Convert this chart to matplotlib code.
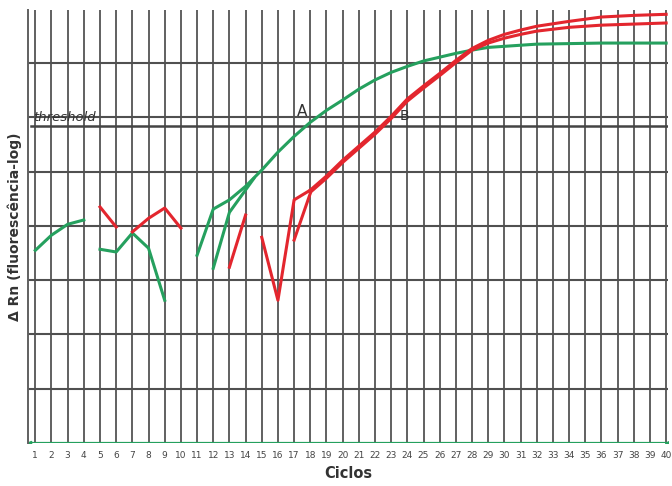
import matplotlib.pyplot as plt

# amplification curves (y in grid units, 0 = bottom axis, 1 unit per log decade)
green1_x = [1, 2, 3, 4]
green1_y = [3.55, 3.83, 4.03, 4.11]
green2_x = [5, 6, 7, 8, 9]
green2_y = [3.57, 3.52, 3.87, 3.59, 2.63]
green_main_x = [11, 12, 13, 14, 15, 16, 17, 18, 19, 20, 21, 22, 23, 24, 25, 26, 27,
                28, 29, 30, 32, 34, 36, 40]
green_main_y = [3.46, 4.31, 4.48, 4.73, 5.03, 5.36, 5.65, 5.91, 6.13, 6.32, 6.52, 6.69,
                6.83, 6.94, 7.04, 7.11, 7.18, 7.24, 7.29, 7.31, 7.35, 7.36, 7.37, 7.37]
green_branch_x = [12, 13, 14.5]
green_branch_y = [3.22, 4.25, 4.87]

red1_x = [5, 6]
red1_y = [4.35, 3.98]
red2_x = [7, 8, 9, 10]
red2_y = [3.89, 4.14, 4.33, 3.96]
red3_x = [13, 14]
red3_y = [3.24, 4.20]
red_v_x = [15, 16, 17, 18]
red_v_y = [3.79, 2.63, 4.48, 4.66]
red_branch_x = [17, 18]
red_branch_y = [3.74, 4.60]
red_main_x = [18, 19, 20, 21, 22, 23, 24, 25, 26, 27, 28, 29, 30, 31, 32, 34, 36, 38, 40]
red_main_y = [4.66, 4.92, 5.21, 5.47, 5.73, 6.02, 6.34, 6.58, 6.81, 7.05, 7.27, 7.42,
              7.53, 7.61, 7.68, 7.77, 7.85, 7.88, 7.90]
red_b_y = [4.62, 4.88, 5.17, 5.43, 5.69, 5.98, 6.30, 6.54, 6.77, 7.01, 7.24, 7.37,
           7.46, 7.53, 7.59, 7.66, 7.70, 7.72, 7.74]

threshold = 5.84
cycles = list(range(1, 41))

green = "#25a05e"
red = "#e3262e"
grid_c = "#606060"

fig = plt.figure(figsize=(6.72, 4.86), dpi=100)
ax = fig.add_axes([0.0417, 0.0885, 0.952, 0.891])

# grid
for c in cycles:
    ax.axvline(c, color=grid_c, lw=1.4, zorder=1)
for g in range(1, 8):
    ax.axhline(g, color="#505050", lw=1.5, zorder=1)
ax.axhline(threshold, xmin=0.004, color="#444444", lw=1.8, zorder=1)
ax.axhline(0, color=green, lw=1.6, zorder=2)
ax.plot([0.62, 40.05], [0, 0], ls="none", marker="<", ms=3, color=green, zorder=2)

lw = 2.2
for xs, ys in [(green1_x, green1_y), (green2_x, green2_y),
               (green_main_x, green_main_y), (green_branch_x, green_branch_y)]:
    ax.plot(xs, ys, color=green, lw=lw, zorder=3)
for xs, ys in [(red1_x, red1_y), (red2_x, red2_y), (red3_x, red3_y),
               (red_v_x, red_v_y), (red_branch_x, red_branch_y),
               (red_main_x, red_main_y), (red_main_x, red_b_y)]:
    ax.plot(xs, ys, color=red, lw=lw, zorder=3)

ax.text(0.85, 6.0, "threshold", fontsize=9.5, style="italic", color="#333333",
        va="center", ha="left", zorder=4)
ax.text(17.5, 6.1, "A", fontsize=11, color="#333333", ha="center", va="center", zorder=4)
ax.text(23.85, 6.02, "B", fontsize=10, color="#333333", ha="center", va="center", zorder=4)

ax.set_xlim(0.55, 40.1)
ax.set_ylim(0, 7.98)
ax.set_xticks(cycles)
ax.set_xticklabels([str(c) for c in cycles], fontsize=6.5, color="#444444")
ax.set_yticks([])
ax.tick_params(axis="x", length=0, pad=6)
for side in ["top", "right", "bottom"]:
    ax.spines[side].set_visible(False)
ax.spines["left"].set_color(grid_c)
ax.spines["left"].set_linewidth(1.4)

ax.set_xlabel("Ciclos", fontsize=10.5, fontweight="bold", color="#333333", labelpad=4)
ax.set_ylabel("\u0394 Rn (fluorescência-log)", fontsize=10, fontweight="bold",
              color="#333333", labelpad=4)

fig.savefig("out.png", dpi=100)
